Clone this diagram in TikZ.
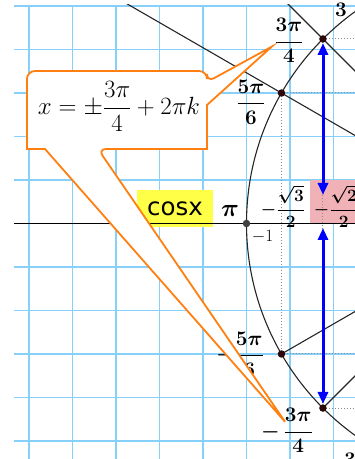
\documentclass[tikz,border=0pt]{standalone}
\usepackage{amsmath, amssymb}
\usepackage{fontspec}
\newfontfamily\labelsans{DejaVu Sans}
\usetikzlibrary{arrows.meta, calc}
\definecolor{gridblue}{RGB}{135, 208, 250}
\definecolor{calloutorange}{RGB}{255, 128, 16}
\definecolor{markyellow}{RGB}{255, 255, 72}
\definecolor{markpink}{RGB}{240, 178, 182}
\definecolor{dotdark}{RGB}{45, 8, 8}

\begin{document}
\begin{tikzpicture}[
    x=1pt, y=1pt,
    gridline/.style={draw=gridblue, line width=1.3pt},
    curve/.style={draw=black!85, line width=1.1pt},
    guide/.style={draw=black!45, dotted, line width=1pt},
    arr/.style={<->, >={Triangle[length=12pt, width=10pt]},
                draw=blue, line width=3pt},
    pnt/.style={circle, fill=dotdark, inner sep=0pt,
                minimum size=7.5pt},
    lbl/.style={font=\fontsize{22}{26}\selectfont\boldmath,
                inner sep=0pt, anchor=base},
    smalllbl/.style={font=\fontsize{18}{21}\selectfont\boldmath,
                inner sep=0pt, anchor=base},
  ]
    \useasboundingbox (0,0) rectangle (355,459);
    \clip (0,0) rectangle (355,459);

    % squared paper
    \foreach \gx in {0,...,7}
      \draw[gridline] ({29+43.5*\gx},0) -- ({29+43.5*\gx},453);
    \foreach \gy in {0,...,10}
      \draw[gridline] (14,{453-43.5*\gy}) -- (355,{453-43.5*\gy});

    % unit circle and its points
    \coordinate (O) at (507.5,235.5);
    \coordinate (E) at (360,235.5);
    \coordinate (a1) at ($(O)+(135:261)$);
    \coordinate (a2) at ($(O)+(150:261)$);
    \coordinate (b2) at ($(O)+(-150:261)$);
    \coordinate (b1) at ($(O)+(-135:261)$);
    \coordinate (pp) at ($(O)+(180:261)$);

    % marked values on the axis
    \fill[markpink] (310,235.5) rectangle (360,279);
    \node[fill=markyellow, minimum width=76pt, minimum height=37pt,
          inner sep=0pt, font=\labelsans\fontsize{24.5}{28}\selectfont]
          (cosx) at (175,250.5) {cosx};

    \draw[line width=1.1pt] (14,235.5) -- (E);
    \begin{scope}
      \clip (0,0) rectangle (355,454);
      \draw[curve] (O) circle[radius=261];
      \draw[curve] (O) -- ($(O)+(150:480)$);
      \draw[curve] (O) -- ($(O)+(135:400)$);
      \draw[curve] (O) -- (b2);
      \draw[curve] (O) -- (b1);
    \end{scope}

    \draw[guide] (a2) -- (b2);
    \draw[guide] (a1) -- (b1);
    \draw[guide] (a1) -- (a1 -| E);
    \draw[guide] (a2) -- (a2 -| E);
    \draw[guide] (b2) -- (b2 -| E);
    \draw[guide] (b1) -- (b1 -| E);

    % arrows from the axis to the points
    \coordinate (u0) at (323,264);
    \coordinate (u1) at (323,416);
    \coordinate (d0) at (323,231);
    \coordinate (d1) at (323,55);
    \draw[arr] (u0) -- (u1);
    \draw[arr] (d0) -- (d1);

    \node[pnt] (da1) at (a1) {};
    \node[pnt] (da2) at (a2) {};
    \node[pnt] (db2) at (b2) {};
    \node[pnt] (db1) at (b1) {};
    \node[pnt, fill=black!75] (dpp) at (pp) {};

    % labels
    \node[lbl] (l1) at (289,411.8) {$\dfrac{3\pi}{4}$};
    \node[lbl] (l2) at (251,350.2) {$\dfrac{5\pi}{6}$};
    \node[lbl] (l3) at (240,98.5) {$-\dfrac{5\pi}{6}$};
    \node[lbl] (l4) at (287,21.8) {$-\,\dfrac{3\pi}{4}$};
    \node[lbl] (l5) at (341,442) {$3$};
    \node[lbl] (l6) at (350,-8) {$3$};
    \node[lbl, font=\fontsize{26}{30}\selectfont\boldmath]
          (lpi) at (230,242) {$\pi$};
    \node[smalllbl] (lr3) at (283,244.5) {$-\dfrac{\sqrt{3}}{2}$};
    \node[smalllbl] (lr2) at (336,244.5) {$-\dfrac{\sqrt{2}}{2}$};
    \node[inner sep=0pt, font=\fontsize{18}{21}\selectfont]
          (lm1) at (262.5,222) {$-1$};

    % callout with the answer
    \filldraw[fill=white, draw=calloutorange, line width=1.8pt]
      (27,340) [rounded corners=8pt] -- (27,388) -- (207,388)
      -- (207,377) [sharp corners] -- (271.7,412.3) -- (207,354)
      -- (207,310) [rounded corners=8pt] -- (98,310)
      [sharp corners] -- (285,37.3) -- (45,310) -- (27,310)
      [rounded corners=8pt] -- cycle;
    \node[inner sep=0pt, anchor=base,
          font=\fontsize{26}{30}\selectfont] (ans) at (119,344.2)
      {$x=\pm\dfrac{3\pi}{4}+2\pi k$};
\end{tikzpicture}
\end{document}
